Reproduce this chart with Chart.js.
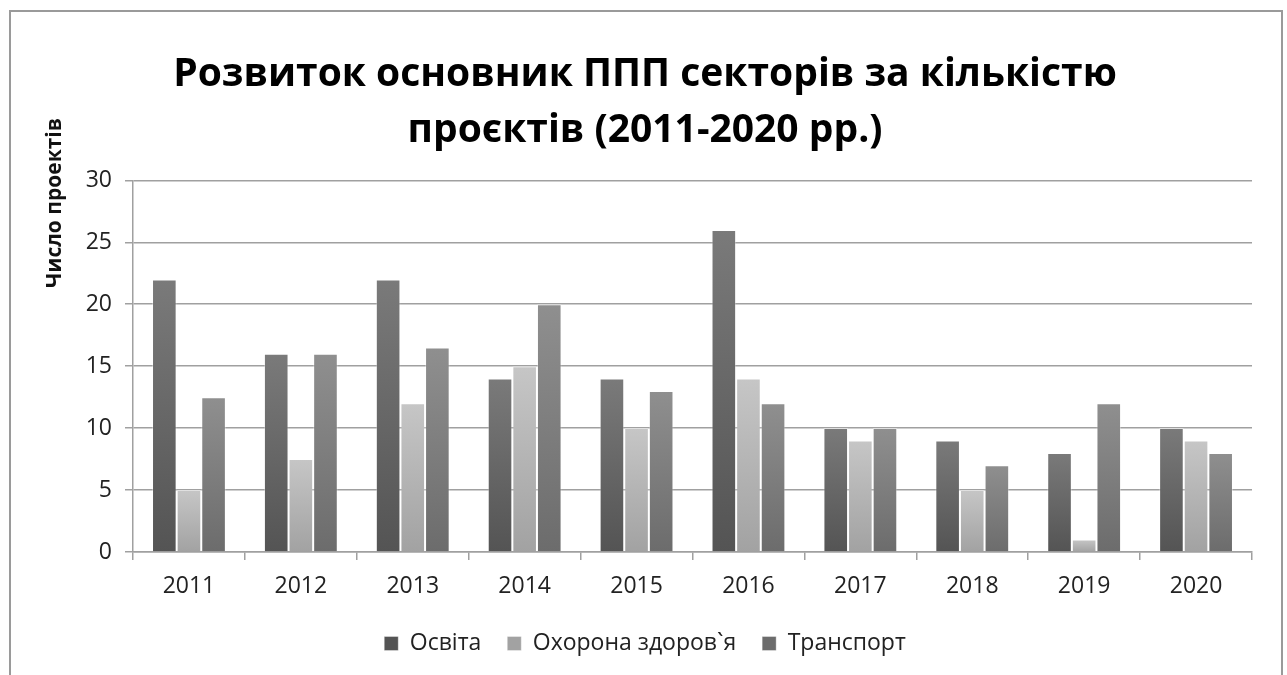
<!DOCTYPE html>
<html>
<head>
<meta charset="utf-8">
<script src="https://cdn.jsdelivr.net/npm/chart.js@4/dist/chart.umd.min.js"></script>
<style>
  html, body { margin: 0; padding: 0; background: #fff; overflow: hidden; }
  #wrap { position: relative; width: 1287px; height: 675px; }
  #frame {
    position: absolute; left: 9px; top: 10px; width: 1270px; height: 700px;
    border: 2px solid #9a9a9a; border-bottom: none; pointer-events: none;
  }
  canvas { position: absolute; left: 0; top: 0; }
</style>
</head>
<body>
<div id="wrap">
  <canvas id="chart" width="1287" height="675"></canvas>
  <div id="frame"></div>
</div>
<script>
const years = ["2011", "2012", "2013", "2014", "2015", "2016", "2017", "2018", "2019", "2020"];
const osvita = [22, 16, 22, 14, 14, 26, 10, 9, 8, 10];
const zdorovia = [5, 7.5, 12, 15, 10, 14, 9, 5, 1, 9];
const transport = [12.5, 16, 16.5, 20, 13, 12, 10, 7, 12, 8];
const yTicks = [0, 5, 10, 15, 20, 25, 30];

const FONT = "'Open Sans', 'Noto Sans', sans-serif";

// vertical shading on each bar, flat colour for the legend swatch
function shade(top, bottom, flat) {
  return (ctx) => {
    const chart = ctx.chart;
    const y = chart.scales && chart.scales.y;
    if (ctx.type !== "data" || !y || !chart.chartArea) return flat;
    const yTop = y.getPixelForValue(ctx.raw);
    const yBase = y.getPixelForValue(0);
    const g = chart.ctx.createLinearGradient(0, yTop, 0, yBase);
    g.addColorStop(0, top);
    g.addColorStop(1, bottom);
    return g;
  };
}

// rotated axis caption sitting near the top of the value axis
const axisCaption = {
  id: "axisCaption",
  afterDraw(chart) {
    const c = chart.ctx;
    c.save();
    c.translate(55, 203);
    c.rotate(-Math.PI / 2);
    c.font = "bold 21px " + FONT;
    c.fillStyle = "#111";
    c.textAlign = "center";
    c.textBaseline = "middle";
    c.fillText("Число проектів", 0, 0);
    c.restore();
  }
};

new Chart(document.getElementById("chart"), {
  type: "bar",
  data: {
    labels: years,
    datasets: [
      {
        label: "Освіта",
        data: osvita,
        backgroundColor: shade("#7a7a7a", "#545454", "#616161"),
        borderColor: "rgba(255,255,255,0.35)",
        borderWidth: 1
      },
      {
        label: "Охорона здоров`я",
        data: zdorovia,
        backgroundColor: shade("#c6c6c6", "#a2a2a2", "#b2b2b2"),
        borderColor: "rgba(255,255,255,0.35)",
        borderWidth: 1
      },
      {
        label: "Транспорт",
        data: transport,
        backgroundColor: shade("#8f8f8f", "#6c6c6c", "#7e7e7e"),
        borderColor: "rgba(255,255,255,0.35)",
        borderWidth: 1
      }
    ]
  },
  options: {
    responsive: false,
    animation: false,
    layout: { padding: { left: 38, right: 35, top: 0, bottom: 10 } },
    datasets: {
      bar: { categoryPercentage: 0.66, barPercentage: 1 }
    },
    plugins: {
      title: {
        display: true,
        text: ["Розвиток основник ППП секторів за кількістю", "проєктів (2011-2020 рр.)"],
        color: "#000",
        font: { family: FONT, size: 39, weight: "bold", lineHeight: 1.44 },
        padding: { top: 47, bottom: 21 }
      },
      legend: {
        position: "bottom",
        labels: {
          color: "#222",
          font: { family: FONT, size: 23 },
          boxWidth: 14,
          boxHeight: 14,
          padding: 26
        }
      },
      tooltip: { enabled: false }
    },
    scales: {
      x: {
        afterFit: (s) => { s.height = 54; },
        grid: {
          display: true,
          drawOnChartArea: false,
          drawTicks: true,
          tickLength: 8,
          color: "#a0a0a0",
          lineWidth: 1.5
        },
        border: { display: true, color: "#a0a0a0", width: 1.5 },
        ticks: {
          color: "#222",
          font: { family: FONT, size: 23 },
          padding: 13,
          maxRotation: 0
        }
      },
      y: {
        min: 0,
        max: 30,
        afterFit: (s) => { s.width = 95; },
        afterBuildTicks: (s) => { s.ticks = yTicks.map((v) => ({ value: v })); },
        grid: {
          color: "#a0a0a0",
          lineWidth: 1.5,
          drawTicks: true,
          tickLength: 8
        },
        border: { display: true, color: "#a0a0a0", width: 1.5 },
        ticks: {
          color: "#222",
          font: { family: FONT, size: 23 },
          padding: 13
        }
      }
    }
  },
  plugins: [axisCaption]
});
</script>
</body>
</html>
